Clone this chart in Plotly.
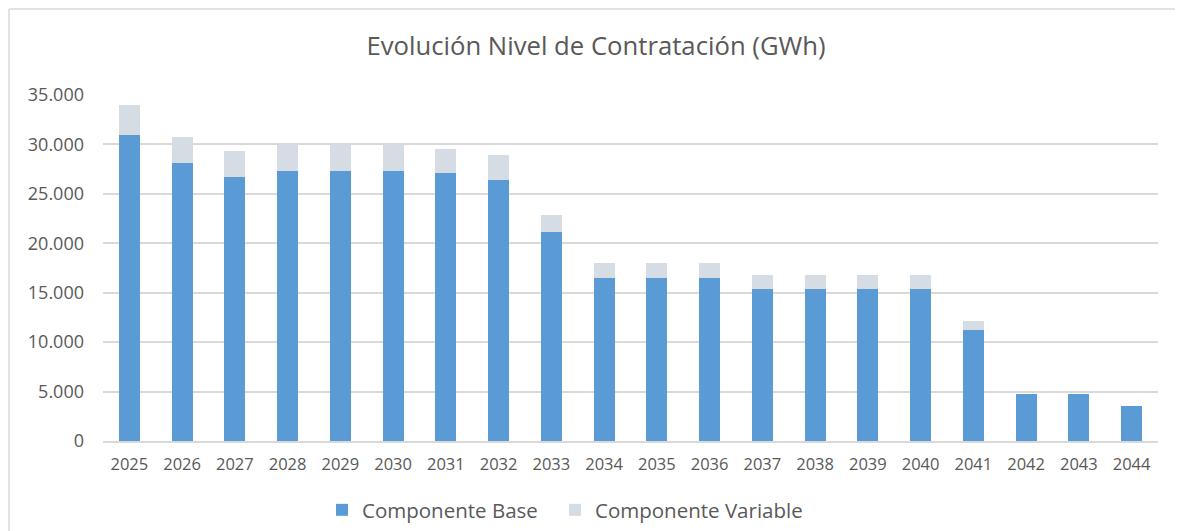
import plotly.graph_objects as go

years = [str(y) for y in range(2025, 2045)]
base = [31000, 28100, 26700, 27300, 27300, 27300, 27100, 26400, 21100, 16500,
        16500, 16500, 15400, 15400, 15400, 15400, 11200, 4800, 4800, 3500]
variable = [3000, 2700, 2600, 2600, 2600, 2600, 2400, 2500, 1800, 1500,
            1500, 1500, 1400, 1400, 1400, 1400, 900, 0, 0, 0]
y_ticks = [0, 5000, 10000, 15000, 20000, 25000, 30000, 35000]

FONT = "Open Sans"
TXT = "#595959"

fig = go.Figure()
fig.add_trace(go.Bar(x=years, y=base, name="Componente Base", legend="legend",
                     showlegend=True,
                     marker=dict(color="#5B9BD5", line=dict(width=0))))
fig.add_trace(go.Bar(x=years, y=variable, name="Componente Variable", legend="legend2",
                     showlegend=True,
                     marker=dict(color="#D6DCE4", line=dict(width=0))))

OFF = 8  # page offset of the figure (body margin)
W, H = 1175, 523
L, R, T = 103 - OFF, 25, 95 - OFF
B = H - (441 - OFF)
pw, ph = W - L - R, H - T - B

def px(x):
    return (x - OFF - L) / pw

def py(y):
    return (H - B - (y - OFF)) / ph

border = dict(color="#D9D9D9", width=1.5)

def leg(x):
    return dict(orientation="h", xanchor="left", yanchor="middle",
                x=px(x), y=py(510), font=dict(size=20.5, color=TXT),
                itemwidth=30, bgcolor="rgba(0,0,0,0)", visible=True)

fig.update_layout(
    width=W, height=H,
    showlegend=True,
    barmode="stack", bargap=0.6,
    separators=",.",
    paper_bgcolor="white", plot_bgcolor="white",
    margin=dict(l=L, r=R, t=T, b=B, autoexpand=False),
    font=dict(family=FONT, color=TXT, size=16),
    title=dict(text="Evolución Nivel de Contratación (GWh)",
               font=dict(family=FONT, size=25.7, color=TXT),
               x=(596 - OFF) / W, xanchor="center", xref="container",
               y=1 - (46 - OFF) / H, yanchor="middle", yref="container"),
    xaxis=dict(type="category", showgrid=False, showline=True,
               linecolor="#D9D9D9", linewidth=1.5, ticks="",
               tickfont=dict(size=16.5, color=TXT), ticklabelstandoff=7),
    yaxis=dict(range=[0, 35000], tickvals=y_ticks, tickformat=",d",
               showgrid=True, gridcolor="#D9D9D9", gridwidth=1.5,
               zeroline=False, showline=False, ticks="",
               tickfont=dict(size=18, color=TXT), ticklabelstandoff=18),
    legend=leg(322),
    legend2=leg(555),
    shapes=[
        dict(type="line", xref="paper", yref="paper",
             x0=px(9), x1=px(1200), y0=py(9), y1=py(9), line=border, layer="below"),
        dict(type="line", xref="paper", yref="paper",
             x0=px(9), x1=px(9), y0=py(9), y1=py(560), line=border, layer="below"),
    ],
)

fig.write_html("out.html")
